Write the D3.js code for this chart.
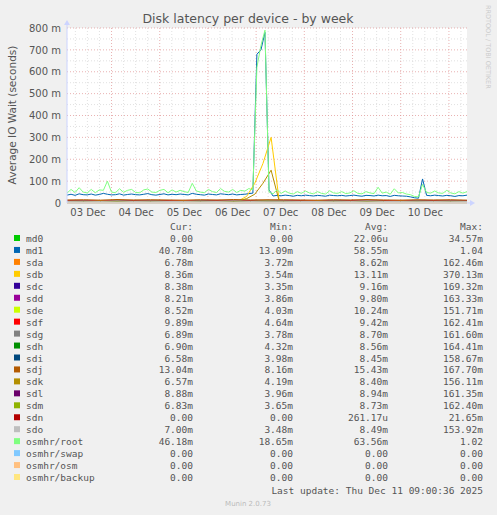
<!DOCTYPE html>
<html><head><meta charset="utf-8">
<script src="https://cdn.jsdelivr.net/npm/d3@7"></script>
<style>body{margin:0;background:#f0f0f0}</style></head>
<body><svg id="c" width="497" height="515"></svg>
<script>
const yTicks=[0,100,200,300,400,500,600,700,800];
const yTickLabels=["0","100 m","200 m","300 m","400 m","500 m","600 m","700 m","800 m"];
const dayLabels=["03 Dec","04 Dec","05 Dec","06 Dec","07 Dec","08 Dec","09 Dec","10 Dec"];
const md1=[36,40,35,42,38,37,41,36,39,44,40,37,38,42,36,39,41,38,37,40,43,38,36,39,42,37,40,38,41,39,37,44,40,38,36,41,39,37,42,40,38,41,37,39,40,43,45,680,700,780,60,32,35,33,36,34,31,35,33,36,34,32,35,33,31,36,34,33,35,32,34,36,33,31,35,34,32,36,33,34,30,35,33,32,31,28,24,22,110,35,33,36,34,32,35,33,30,34,33,36];
const root=[45,62,48,70,50,46,62,47,60,58,100,50,47,65,49,58,62,48,47,60,64,50,48,58,62,47,60,50,58,52,48,90,55,50,47,62,52,48,66,53,50,62,48,58,54,66,60,620,720,790,50,42,60,44,55,45,41,52,44,55,46,42,52,44,41,56,46,44,52,43,46,56,44,42,52,46,43,72,45,50,40,65,46,48,41,38,30,28,85,48,45,55,46,44,58,46,42,52,45,52];
const sda=[8,9,7,10,8,9,8,7,9,8,10,8,12,9,8,7,9,8,10,8,7,9,8,9,7];
const sdb=[8,9,7,8,10,8,9,7,8,9,8,10,8,7,9,8,9,8,7,9,8,10,30,90,180,300,9,8,7,9,8,10,8,9,7,8,9,8,10,8,7,9,8,9,7,8,9,8,10,8];
const sdc=[6,7,5,8,6,7,6,5,7,6,8,6,7,6,7,5,7,6,8,6,5,7,6,7,5];
const sdd=[7,6,8,7,5,6,7,8,6,7,5,7,8,7,6,8,7,5,6,7,8,6,7,5,7];
const sde=[9,10,8,11,9,10,9,8,10,9,11,9,10,10,9,8,10,9,11,9,8,10,9,10,8];
const sdf=[10,11,9,12,10,11,10,9,11,10,12,10,8,11,10,9,11,10,12,10,9,11,10,11,10];
const sdg=[7,8,6,9,7,8,7,6,8,7,9,7,8,8,7,6,8,7,9,7,6,8,7,8,7];
const sdh=[6,7,6,8,7,6,7,6,8,7,6,7,8,6,7,6,8,7,6,7,6,8,7,6,7];
const sdi=[6,7,5,7,6,7,6,5,7,6,7,6,7,7,6,5,7,6,7,6,5,7,6,7,6];
const sdj=[14,15,13,16,14,15,14,13,15,14,16,14,15,15,14,13,15,14,16,14,13,15,14,15,13];
const sdk=[7,8,6,7,9,7,8,6,7,8,7,9,7,6,8,7,8,7,6,8,7,9,20,40,90,150,8,7,6,8,7,9,7,8,6,7,8,7,9,7,6,8,7,8,6,7,8,7,9,7];
const sdl=[8,9,7,9,8,9,8,7,9,8,9,8,8,9,8,7,9,8,9,8,7,9,8,9,8];
const sdm=[7,8,6,8,7,8,7,6,8,7,8,7,8,8,7,6,8,7,8,7,6,8,7,8,7];
const sdn=[0,0,0,0,0,0,0,0,0,0,0,0,2,0,0,0,0,0,0,0,0,0,0,0,0];
const sdo=[7,8,7,9,7,8,7,7,8,7,9,7,8,8,7,7,8,7,9,7,7,8,7,8,7];
const md0=[0,0,0,0,0,0,0,0,0,0,0,0,0,0,0,0,0,0,0,0,0,0,0,0,0];
const zero=[0,0];
const names=["md0","md1","sda","sdb","sdc","sdd","sde","sdf","sdg","sdh","sdi","sdj","sdk","sdl","sdm","sdn","sdo","osmhr/root","osmhr/swap","osmhr/osm","osmhr/backup"];
const colors=["#00CC00","#0066B3","#FF8000","#FFCC00","#330099","#990099","#CCFF00","#FF0000","#808080","#008F00","#00487D","#B35A00","#B38F00","#6B006B","#8FB300","#B30000","#BEBEBE","#80FF80","#80C9FF","#FFC080","#FFE680"];
const curV=["0.00","40.78m","6.78m","8.36m","8.38m","8.21m","8.52m","9.89m","6.89m","6.90m","6.58m","13.04m","6.57m","8.88m","6.83m","0.00","7.00m","46.18m","0.00","0.00","0.00"];
const minV=["0.00","13.09m","3.72m","3.54m","3.35m","3.86m","4.03m","4.64m","3.78m","4.32m","3.98m","8.16m","4.19m","3.96m","3.65m","0.00","3.48m","18.65m","0.00","0.00","0.00"];
const avgV=["22.06u","58.55m","8.62m","13.11m","9.16m","9.80m","10.24m","9.42m","8.70m","8.56m","8.45m","15.43m","8.40m","8.94m","8.73m","261.17u","8.49m","63.56m","0.00","0.00","0.00"];
const maxV=["34.57m","1.04","162.46m","370.13m","169.32m","163.33m","151.71m","162.41m","161.60m","164.41m","158.67m","167.70m","156.11m","161.35m","162.40m","21.65m","153.92m","1.02","0.00","0.00","0.00"];
const series=[md0,md1,sda,sdb,sdc,sdd,sde,sdf,sdg,sdh,sdi,sdj,sdk,sdl,sdm,sdn,sdo,root,zero,zero,zero];

const svg=d3.select("#c");
const L=67,R=467,T=28,B=203;
const t0=new Date(2025,11,3,1,50),t1=new Date(2025,11,11,9,0);
const x=d3.scaleTime().domain([t0,t1]).range([L,R]);
const y=d3.scaleLinear().domain([0,800]).range([B,T]);
svg.append("rect").attr("x",L).attr("y",T).attr("width",R-L).attr("height",B-T).attr("fill","#fff");
const g=svg.append("g");
for(let v=50;v<800;v+=100) g.append("line").attr("x1",L).attr("x2",R).attr("y1",y(v)).attr("y2",y(v)).attr("stroke","#ccc").attr("stroke-dasharray","1,2").attr("stroke-width",0.6);
const hours=d3.timeHour.every(6).range(t0,t1);
hours.forEach(h=>{if(h.getHours()!==0)g.append("line").attr("x1",x(h)).attr("x2",x(h)).attr("y1",T).attr("y2",B).attr("stroke","#ccc").attr("stroke-dasharray","1,2").attr("stroke-width",0.6);});
yTicks.forEach(v=>{if(v>0)g.append("line").attr("x1",L).attr("x2",R).attr("y1",y(v)).attr("y2",y(v)).attr("stroke","#e09090").attr("stroke-dasharray","1,2").attr("stroke-width",0.7);});
d3.timeDay.range(t0,t1).forEach(d=>g.append("line").attr("x1",x(d)).attr("x2",x(d)).attr("y1",T).attr("y2",B).attr("stroke","#e09090").attr("stroke-dasharray","1,2").attr("stroke-width",0.7));
const ya=d3.axisLeft(y).tickValues(yTicks).tickFormat((d,i)=>yTickLabels[i]).tickSize(0).tickPadding(6);
svg.append("g").attr("transform",`translate(${L},0)`).call(ya).call(a=>{a.select(".domain").remove();a.selectAll("text").attr("font-family","DejaVu Sans").attr("font-size",10).attr("fill","#555");});
const noons=d3.timeDay.range(new Date(2025,11,3),new Date(2025,11,11)).map(d=>new Date(d.getTime()+12*3600e3));
const xa=d3.axisBottom(x).tickValues(noons).tickFormat((d,i)=>dayLabels[i]).tickSize(0).tickPadding(6);
svg.append("g").attr("transform",`translate(0,${B})`).call(xa).call(a=>{a.select(".domain").remove();a.selectAll("text").attr("font-family","DejaVu Sans").attr("font-size",10).attr("fill","#555");});
series.forEach((s,k)=>{
  const n=s.length;
  const line=d3.line().x((d,i)=>x(new Date(+t0+(t1-t0)*i/(n-1)))).y(d=>y(d));
  svg.append("path").datum(s).attr("d",line).attr("fill","none").attr("stroke",colors[k]).attr("stroke-width",1);
});
svg.append("line").attr("x1",L).attr("x2",R+5).attr("y1",B).attr("y2",B).attr("stroke","#ccd4ff");
svg.append("line").attr("x1",L).attr("x2",L).attr("y1",B).attr("y2",T-6).attr("stroke","#ccd4ff");
svg.append("path").attr("d",`M${R+3},${B-3}L${R+8},${B}L${R+3},${B+3}Z`).attr("fill","#ccd4ff");
svg.append("path").attr("d",`M${L-3},${T-3}L${L},${T-8}L${L+3},${T-3}Z`).attr("fill","#ccd4ff");
svg.append("text").attr("x",248).attr("y",23).attr("text-anchor","middle").attr("font-family","DejaVu Sans").attr("font-size",12.5).attr("fill","#555").text("Disk latency per device - by week");
svg.append("text").attr("transform","translate(16,115) rotate(-90)").attr("text-anchor","middle").attr("font-family","DejaVu Sans").attr("font-size",10.5).attr("fill","#555").text("Average IO Wait (seconds)");
svg.append("text").attr("transform","translate(486,5) rotate(90)").attr("font-family","DejaVu Sans").attr("font-size",6.5).attr("fill","#ccc").text("RRDTOOL / TOBI OETIKER");
const mono={"font-family":"DejaVu Sans Mono","font-size":9.5,"fill":"#555"};
function t(xx,yy,s,anchor){const e=svg.append("text").attr("x",xx).attr("y",yy).attr("text-anchor",anchor||"start").text(s);for(const k in mono)e.attr(k,mono[k]);return e;}
t(193,230,"Cur:","end");t(293,230,"Min:","end");t(388,230,"Avg:","end");t(483,230,"Max:","end");
names.forEach((nm,i)=>{
  const yy=242+i*11.95;
  svg.append("rect").attr("x",14).attr("y",yy-7).attr("width",6).attr("height",6).attr("fill",colors[i]);
  t(26,yy,nm);t(193,yy,curV[i],"end");t(293,yy,minV[i],"end");t(388,yy,avgV[i],"end");t(483,yy,maxV[i],"end");
});
t(483,494,"Last update: Thu Dec 11 09:00:36 2025","end");
svg.append("text").attr("x",248).attr("y",506).attr("text-anchor","middle").attr("font-family","DejaVu Sans").attr("font-size",7).attr("fill","#bbb").text("Munin 2.0.73");
</script></body></html>
